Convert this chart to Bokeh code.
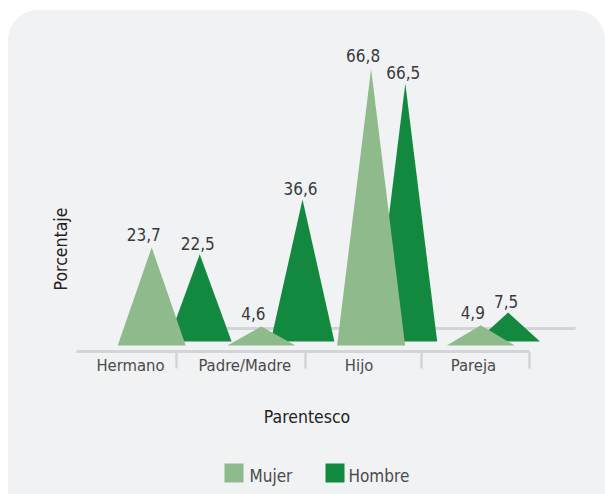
import math
from bokeh.plotting import figure
from bokeh.models import Range1d
from bokeh.core.properties import value
from bokeh.embed import file_html
from bokeh.resources import INLINE

# ---------------- data ----------------
categories = ["Hermano", "Padre/Madre", "Hijo", "Pareja"]
mujer = [23.7, 4.6, 66.8, 4.9]
hombre = [22.5, 36.6, 66.5, 7.5]
mujer_labels = ["23,7", "4,6", "66,8", "4,9"]
hombre_labels = ["22,5", "36,6", "66,5", "7,5"]
series_names = ["Mujer", "Hombre"]
x_title = "Parentesco"
y_title = "Porcentaje"

# ---------------- layout / style ----------------
W, H = 597, 484
LEFT, TOP = 8, 10                      # page position of the figure
ORIGIN_X, ORIGIN_Y = 151.2, 345.0      # page px of category 0 / value 0 (front row)
PX_PER_CAT, PX_PER_PCT = 109.7, 4.14
HALF_W = 0.31                           # half base width of a pyramid (category units)
DEPTH = 0.937                           # perspective scale of the back row
VX, VY = 6.95, 15.3                     # vanishing point (data units)
TXT_SHIFT = -7                          # baseline correction for the text glyphs
FONT = value("DejaVu Sans Condensed, Roboto, sans-serif")
C_MUJER = "#8fba8c"
C_HOMBRE = "#12893f"
C_GRID = "#d2d4d6"
BG = "#f1f2f4"


def dx(px):
    return (px - ORIGIN_X) / PX_PER_CAT


def dy(py):
    return (ORIGIN_Y - py) / PX_PER_PCT


def back(x, y):
    return VX + DEPTH * (x - VX), VY + DEPTH * (y - VY)


p = figure(width=W, height=H, output_backend="svg", toolbar_location=None,
           x_range=Range1d(dx(LEFT), dx(LEFT + W)),
           y_range=Range1d(dy(TOP + H), dy(TOP)),
           x_axis_type=None, y_axis_type=None, min_border=0)
p.grid.visible = False
p.outline_line_color = None
p.background_fill_color = None
p.border_fill_color = None
p.styles = {"background-color": BG, "border-radius": "30px 30px 0 0",
            "margin-top": f"{TOP}px", "margin-left": f"{LEFT}px"}

# back floor line
p.segment(x0=[dx(140)], y0=[dy(328)], x1=[dx(575)], y1=[dy(328)],
          line_color=C_GRID, line_width=3)

# Hombre (back row) pyramids
hx, hy, hax, hay = [], [], [], []
for i, v in enumerate(hombre):
    pts = [back(i - HALF_W, 0), back(i, v), back(i + HALF_W, 0)]
    hx.append([q[0] for q in pts])
    hy.append([q[1] for q in pts])
    hax.append(pts[1][0])
    hay.append(pts[1][1])
p.patches(hx, hy, fill_color=C_HOMBRE, line_color=None)

# Mujer (front row) pyramids
mx = [[i - HALF_W, i, i + HALF_W] for i in range(len(mujer))]
my = [[0, v, 0] for v in mujer]
p.patches(mx, my, fill_color=C_MUJER, line_color=None)

# value labels
p.text(x=list(range(len(mujer))), y=mujer, text=mujer_labels,
       x_offset=-8, y_offset=-6 + TXT_SHIFT, text_align="center", text_baseline="alphabetic",
       text_font=FONT, text_font_size="17px", text_color="#3a3a3a")
p.text(x=hax, y=hay, text=hombre_labels,
       x_offset=-2, y_offset=-4 + TXT_SHIFT, text_align="center", text_baseline="alphabetic",
       text_font=FONT, text_font_size="17px", text_color="#3a3a3a")

# category axis
TICKS_PX = [176, 305, 421, 529]
p.segment(x0=[dx(76)], y0=[dy(351)], x1=[dx(529)], y1=[dy(351)],
          line_color=C_GRID, line_width=3)
p.segment(x0=[dx(t) for t in TICKS_PX], y0=[dy(352)] * 4,
          x1=[dx(t) for t in TICKS_PX], y1=[dy(368)] * 4,
          line_color=C_GRID, line_width=2.5)
p.text(x=[dx(130 + 114.3 * i) for i in range(len(categories))], y=[dy(372)] * len(categories),
       text=categories, y_offset=TXT_SHIFT, text_align="center", text_baseline="alphabetic",
       text_font=FONT, text_font_size="16.5px", text_color="#4a4a4a")

# axis titles
p.text(x=[dx(306.5)], y=[dy(423)], text=[x_title], y_offset=TXT_SHIFT, text_align="center",
       text_baseline="alphabetic", text_font=FONT, text_font_size="17.5px",
       text_color="#222222")
p.text(x=[dx(67)], y=[dy(248.5)], text=[y_title], angle=math.pi / 2, x_offset=TXT_SHIFT,
       text_align="center", text_baseline="alphabetic", text_font=FONT,
       text_font_size="17.5px", text_color="#222222")

# legend
p.rect(x=[dx(233.5), dx(334.5)], y=[dy(472.5)] * 2, width=19, height=19,
       width_units="screen", height_units="screen",
       fill_color=[C_MUJER, C_HOMBRE], line_color=None)
p.text(x=[dx(249), dx(348)], y=[dy(482)] * 2, text=series_names, y_offset=TXT_SHIFT,
       text_align="left", text_baseline="alphabetic", text_font=FONT,
       text_font_size="17px", text_color="#4a4a4a")

open("out.html", "w").write(file_html(p, INLINE))
